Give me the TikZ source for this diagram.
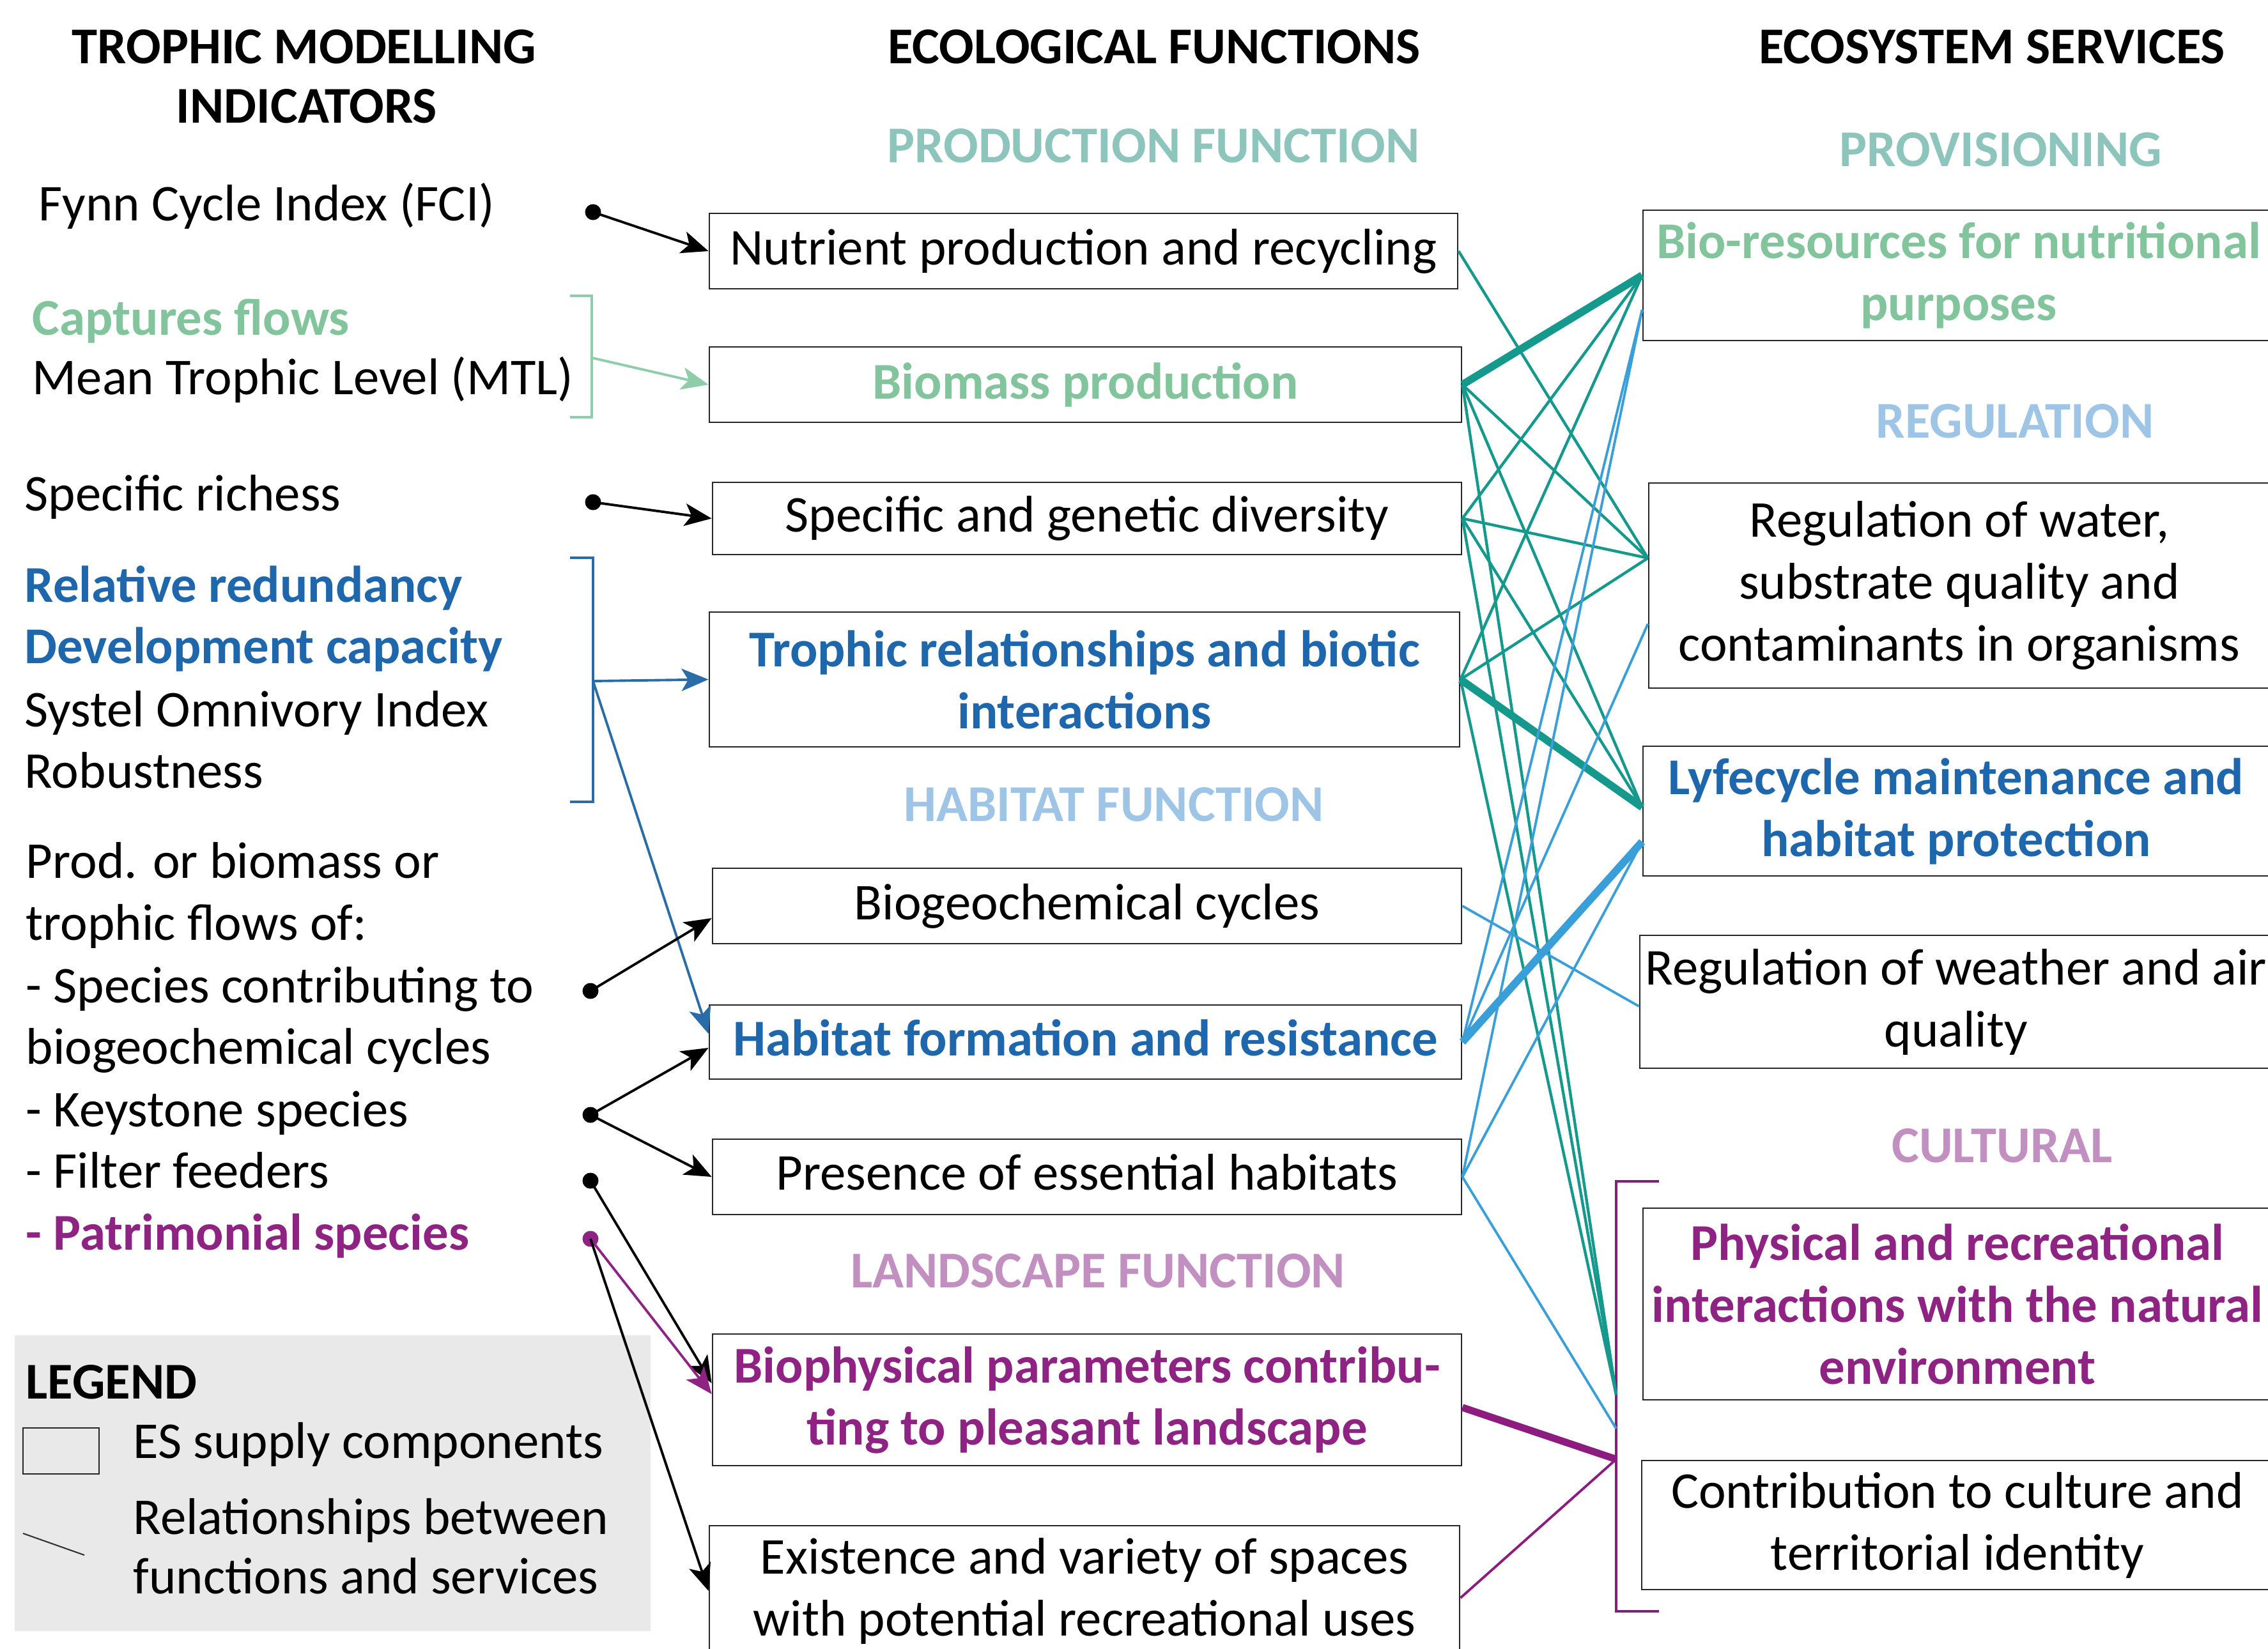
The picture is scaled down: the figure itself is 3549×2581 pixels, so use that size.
\documentclass[tikz,border=0pt]{standalone}
\usepackage{fontspec}
\setmainfont{Carlito}
\usetikzlibrary{arrows.meta}
\definecolor{tealln}{HTML}{15998D}
\definecolor{bluln}{HTML}{3A9FD8}
\definecolor{purln}{HTML}{8C1C80}
\definecolor{dblue}{HTML}{1F67AD}
\definecolor{brblue}{HTML}{2A6CA8}
\definecolor{purtx}{HTML}{8E2383}
\definecolor{grntx}{HTML}{82C49C}
\definecolor{prodhd}{HTML}{8DC5BD}
\definecolor{habhd}{HTML}{9EC5E6}
\definecolor{landhd}{HTML}{C28FC1}
\definecolor{grnbr}{HTML}{8DCDA8}
\definecolor{purbr}{HTML}{7A2573}
\definecolor{legbg}{HTML}{E9E9E9}
\newcommand\fsz{\fontsize{23pt}{27.6pt}\selectfont}
\begin{document}
\begin{tikzpicture}[x=0.1mm,y=-0.1mm,
  every node/.style={font=\fsz, inner sep=0pt},
  hdr/.style={font=\fsz\bfseries, anchor=base},
  ltx/.style={anchor=base west},
  fbox/.style={draw=black!85, line width=0.8pt, fill=white, align=center},
  dot/.style={circle, fill=black, minimum size=2.5mm},
  arr/.style={-{Stealth[length=12pt,width=10pt,inset=3pt]}, line width=1.1pt},
  tl/.style={draw=tealln, line width=1.25pt},
  tlk/.style={draw=tealln, line width=3.4pt},
  bl/.style={draw=bluln, line width=1.1pt},
  blk/.style={draw=bluln, line width=3.4pt},
  pl/.style={draw=purln, line width=1.1pt},
  plk/.style={draw=purln, line width=3.2pt}]
\useasboundingbox (0,0) rectangle (3549,2581);
\clip (0,0) rectangle (3549,2581);
\fill[white] (0,0) rectangle (3549,2581);

% ---------------- headers
\node[hdr] (h1) at (476,99) {TROPHIC MODELLING};
\node[hdr] (h1b) at (480,192) {INDICATORS};
\node[hdr] (h2) at (1806,99) {ECOLOGICAL FUNCTIONS};
\node[hdr] (h3) at (3117,99) {ECOSYSTEM SERVICES};
\node[hdr, text=prodhd] (sh1) at (1805,254) {PRODUCTION FUNCTION};
\node[hdr, text=habhd] (sh2) at (1743,1285) {HABITAT FUNCTION};
\node[hdr, text=landhd] (sh3) at (1718,2015) {LANDSCAPE FUNCTION};
\node[hdr, text=prodhd] (sh4) at (3131,260) {PROVISIONING};
\node[hdr, text=habhd] (sh5) at (3153,685) {REGULATION};
\node[hdr, text=landhd] (sh6) at (3133,1819) {CULTURAL};

% ---------------- left column texts
\node[ltx] (t1) at (60,345) {Fynn Cycle Index (FCI)};
\node[ltx, font=\fsz\bfseries, text=grntx] (t2) at (50,524) {Captures flows};
\node[ltx] (t3) at (50,617) {Mean Trophic Level (MTL)};
\node[ltx] (t4) at (38,799) {Specific richess};
\node[ltx, font=\fsz\bfseries, text=dblue] (t5) at (38,942) {Relative redundancy};
\node[ltx, font=\fsz\bfseries, text=dblue] (t6) at (38,1038) {Development capacity};
\node[ltx] (t7) at (38,1137) {Systel Omnivory Index};
\node[ltx] (t8) at (38,1233) {Robustness};
\node[ltx] (t9) at (40,1374) {Prod. or biomass or};
\node[ltx] (t10) at (40,1471) {trophic flows of:};
\node[ltx] (t11) at (40,1569) {- Species contributing to};
\node[ltx] (t12) at (40,1665) {biogeochemical cycles};
\node[ltx] (t13) at (40,1763) {- Keystone species};
\node[ltx] (t14) at (40,1859) {- Filter feeders};
\node[ltx, font=\fsz\bfseries, text=purtx] (t15) at (40,1956) {- Patrimonial species};

% ---------------- legend
\fill[legbg] (23,2090) rectangle (1018,2553);
\node[ltx, font=\fsz\bfseries] (lg) at (40,2189) {LEGEND};
\node[draw=black!85, line width=0.8pt, fill=legbg, minimum width=11.9mm, minimum height=7.2mm] (lgbox) at (95.5,2271) {};
\node[ltx] (lg1) at (208,2282) {ES supply components};
\coordinate (lgl1) at (36,2400);
\coordinate (lgl2) at (132,2434);
\draw[black!80, line width=0.6pt] (lgl1) -- (lgl2);
\node[ltx] (lg2) at (208,2401) {Relationships between};
\node[ltx] (lg3) at (208,2494) {functions and services};

% ---------------- middle boxes
\node[fbox, minimum width=117.1mm, minimum height=11.8mm] (nut) at (1695.5,393) {Nutrient production and recycling};
\node[fbox, minimum width=117.7mm, minimum height=11.8mm, font=\fsz\bfseries, text=grntx] (bio) at (1698.5,602) {Biomass production};
\node[fbox, minimum width=117.2mm, minimum height=11.3mm] (spe) at (1701,811.5) {Specific and genetic diversity};
\node[fbox, minimum width=117.4mm, minimum height=21.1mm, font=\fsz\bfseries, text=dblue] (tro) at (1697,1063.5) {Trophic relationships and biotic\\interactions};
\node[fbox, minimum width=117.2mm, minimum height=11.8mm] (bgc) at (1701,1418) {Biogeochemical cycles};
\node[fbox, minimum width=117.7mm, minimum height=11.6mm, text depth=0.42em, font=\fsz\bfseries, text=dblue] (hab) at (1698.5,1631) {Habitat formation and resistance};
\node[fbox, minimum width=117.2mm, minimum height=11.8mm, text depth=0.42em] (pre) at (1701,1842) {Presence of essential habitats};
\node[fbox, minimum width=117.2mm, minimum height=20.6mm, font=\fsz\bfseries, text=purtx] (bph) at (1701,2191) {Biophysical parameters contribu-\\ting to pleasant landscape};
\node[fbox, minimum width=117.4mm, minimum height=20.4mm] (exi) at (1697,2490) {Existence and variety of spaces\\with potential recreational uses};

% ---------------- right boxes
\node[fbox, minimum width=98.8mm, minimum height=20.4mm, font=\fsz\bfseries, text=grntx] (bres) at (3065,431) {Bio-resources for nutritional\\purposes};
\node[fbox, minimum width=97.2mm, minimum height=32.1mm] (regw) at (3066,916.5) {Regulation of water,\\substrate quality and\\contaminants in organisms};
\node[fbox, minimum width=98.0mm, minimum height=20.3mm, font=\fsz\bfseries, text=dblue] (lyfe) at (3061,1269.5) {Lyfecycle maintenance and\\habitat protection};
\node[fbox, minimum width=99.0mm, minimum height=20.8mm] (weat) at (3061,1568) {Regulation of weather and air\\quality};
\node[fbox, minimum width=98.4mm, minimum height=30.0mm, font=\fsz\bfseries, text=purtx] (phys) at (3063,2041) {Physical and recreational\\interactions with the natural\\environment};
\node[fbox, minimum width=98.8mm, minimum height=20.2mm] (cont) at (3063,2387) {Contribution to culture and\\territorial identity};

% ---------------- brackets
\draw[grnbr, line width=0.9pt] (892,463) -- (926,463) -- (926,653) -- (892,653);
\draw[brblue, line width=0.9pt] (892,873) -- (928,873) -- (928,1255) -- (892,1255);
\draw[purbr, line width=1.4pt] (2596,1849) -- (2529,1849) -- (2529,2522) -- (2596,2522);

% ---------------- left dots and arrows
\node[dot] (dfci) at (928,332) {};
\node[dot] (dsr) at (928,786) {};
\node[dot] (dspc) at (924,1551) {};
\node[dot] (dkey) at (924,1745) {};
\node[dot] (dff) at (924,1848) {};
\node[dot, fill=purtx] (dpat) at (924,1939) {};
\coordinate (gbr) at (926,560);
\coordinate (bbr) at (928,1066);

\draw[arr] (dfci.center) -- (nut.west);
\draw[arr, grnbr] (gbr) -- (bio.west);
\draw[arr] (dsr.center) -- (spe.west);
\draw[arr, brblue] (bbr) -- (tro.west);
\draw[arr, brblue] (bbr) -- ([yshift=1.3mm]hab.west);
\draw[arr] (dspc.center) -- ([yshift=-1.9mm]bgc.west);
\draw[arr] (dkey.center) -- ([yshift=-0.9mm]hab.west);
\draw[arr] (dkey.center) -- (pre.west);
\draw[arr] (dff.center) -- ([yshift=2.6mm]bph.west);
\draw[arr, purtx] (dpat.center) -- ([yshift=0.9mm]bph.west);
\draw[arr] (dpat.center) -- (exi.west);

% ---------------- right anchors
\coordinate (bresT) at (bres.west);
\coordinate (bresB) at ([yshift=-5.4mm]bres.west);
\coordinate (regwT) at ([yshift=4.3mm]regw.west);
\coordinate (regwB) at ([yshift=-6.0mm]regw.west);
\coordinate (lyfeT) at ([yshift=0.6mm]lyfe.west);
\coordinate (lyfeB) at ([yshift=-4.8mm]lyfe.west);
\coordinate (weatB) at ([yshift=-0.7mm]weat.west);
\coordinate (cultT) at (2529,2183);
\coordinate (cultB) at (2529,2236);
\coordinate (cultP) at (2529,2284);
\coordinate (bphE) at ([yshift=-1.2mm]bph.east);
\coordinate (exiE) at ([yshift=-1.1mm]exi.east);

% teal
\draw[tl] (nut.east) -- (regwT);
\draw[tlk] (bio.east) -- (bresT);
\draw[tl] (bio.east) -- (regwT);
\draw[tl] (bio.east) -- (lyfeT);
\draw[tl] (bio.east) -- (cultT);
\draw[tl] (spe.east) -- (bresT);
\draw[tl] (spe.east) -- (regwT);
\draw[tl] (spe.east) -- (lyfeT);
\draw[tl] (spe.east) -- (cultT);
\draw[tl] (tro.east) -- (bresT);
\draw[tl] (tro.east) -- (regwT);
\draw[tlk] (tro.east) -- (lyfeT);
\draw[tl] (tro.east) -- (cultT);
% blue
\draw[bl] (bgc.east) -- (weatB);
\draw[bl] (hab.east) -- (bresB);
\draw[bl] (hab.east) -- (regwB);
\draw[blk] (hab.east) -- (lyfeB);
\draw[bl] (pre.east) -- (bresB);
\draw[bl] (pre.east) -- (lyfeB);
\draw[bl] (pre.east) -- (cultB);
% purple
\draw[plk] (bphE) -- (cultP);
\draw[pl] (exiE) -- (cultP);
\end{tikzpicture}
\end{document}
